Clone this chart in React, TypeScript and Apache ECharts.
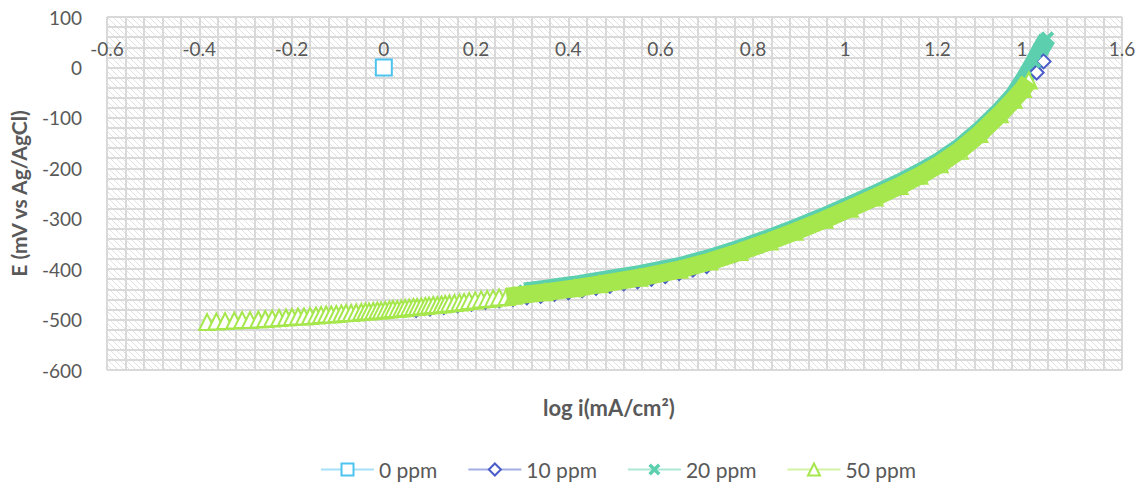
import React, { useEffect, useRef } from "react";
import * as echarts from "echarts";

// ---- data ----
const seriesNames = ["0 ppm", "10 ppm", "20 ppm", "50 ppm"];

const logI0 = [0];
const e0 = [0];

const logI10 = [0.07, 0.1, 0.13, 0.16, 0.19, 0.22, 0.25, 0.28, 0.31, 0.34, 0.37, 0.4, 0.43, 0.46, 0.49, 0.52, 0.55, 0.58, 0.61, 0.64, 0.67, 0.7, 0.76, 0.82, 0.88, 0.94, 1.0, 1.06, 1.12, 1.18, 1.24, 1.3, 1.35, 1.39, 1.415, 1.43];
const e10 = [-481, -478, -475, -472, -469, -465, -462, -459, -456, -453, -449, -446, -442, -437, -433, -428, -424, -419, -414, -408, -401, -394, -372, -353, -332, -309, -287, -263, -238, -209, -173, -127, -81, -42, -10, 12];

const logI20 = [0.305, 0.348, 0.413, 0.467, 0.554, 0.641, 0.706, 0.771, 0.836, 0.89, 0.955, 1.01, 1.064, 1.118, 1.161, 1.205, 1.248, 1.291, 1.335, 1.365, 1.39, 1.41, 1.425, 1.438];
const e20 = [-444, -439, -431, -423, -410, -394, -378, -359, -338, -319, -295, -273, -251, -228, -208, -185, -158, -125, -86, -55, -20, 12, 38, 58];

const logI50 = [-0.383, -0.363, -0.344, -0.324, -0.307, -0.29, -0.272, -0.257, -0.242, -0.227, -0.212, -0.199, -0.186, -0.173, -0.16, -0.147, -0.136, -0.125, -0.114, -0.103, -0.092, -0.082, -0.071, -0.06, -0.049, -0.04, -0.032, -0.023, -0.014, -0.006, 0.003, 0.012, 0.02, 0.029, 0.038, 0.046, 0.055, 0.064, 0.072, 0.081, 0.09, 0.098, 0.107, 0.116, 0.125, 0.133, 0.142, 0.153, 0.164, 0.174, 0.185, 0.198, 0.211, 0.224, 0.237, 0.25, 0.266, 0.281, 0.348, 0.413, 0.467, 0.554, 0.641, 0.706, 0.771, 0.836, 0.89, 0.955, 1.01, 1.064, 1.118, 1.161, 1.205, 1.248, 1.291, 1.335, 1.365, 1.385, 1.398];
const e50 = [-505, -504, -503, -502, -501, -501, -500, -499, -498, -497, -496, -495, -494, -494, -493, -492, -491, -490, -490, -489, -488, -487, -487, -486, -485, -484, -484, -483, -482, -482, -481, -480, -479, -479, -478, -477, -476, -475, -475, -474, -473, -472, -471, -471, -470, -469, -468, -467, -466, -465, -463, -462, -460, -459, -458, -456, -455, -453, -446, -438, -430, -417, -401, -385, -366, -345, -326, -302, -280, -258, -235, -215, -192, -165, -132, -93, -64, -43, -26];

// the dense part of the 50 ppm scan, where its markers merge into a solid band
const band50Start = 0.26;

const xMin = -0.6;
const xMax = 1.6;
const xStep = 0.2;
const yMin = -600;
const yMax = 100;
const yStep = 100;

const colors = ["#4dc4ef", "#4a5cc8", "#5ccfae", "#a5e74c"];
const textColor = "#595959";
const gridColor = "#d9d9d9";
const FONT = "Lato, 'Open Sans', sans-serif";

const W = 1142;
const H = 483;
const GRID = { left: 107, right: 20, top: 17, bottom: 113 };

const zip = (xs: number[], ys: number[]) => xs.map((x, i) => [x, ys[i]]);

const crossSymbol = "path://M2,0L5,3L8,0L10,2L7,5L10,8L8,10L5,7L2,10L0,8L3,5L0,2Z";

function makeHatch() {
  const c = document.createElement("canvas");
  c.width = 6;
  c.height = 6;
  const ctx = c.getContext("2d");
  if (ctx) {
    ctx.fillStyle = "#ffffff";
    ctx.fillRect(0, 0, 6, 6);
    ctx.fillStyle = "#e2e2e2";
    for (let i = 0; i < 6; i += 1) ctx.fillRect(i, i, 1, 1);
  }
  return c;
}

export default function App() {
  const ref = useRef<HTMLDivElement>(null);

  useEffect(() => {
    if (!ref.current) return;
    const chart = echarts.init(ref.current, undefined, { renderer: "svg" });
    const hatch = makeHatch();

    const band50 = zip(logI50, e50).filter((p) => p[0] >= band50Start);

    // the horizontal axis crosses the vertical one at E = 0
    const plotH = H - GRID.top - GRID.bottom;
    const xAxisOffset = -plotH * (yMax / (yMax - yMin));

    const option: any = {
      animation: false,
      backgroundColor: "#ffffff",
      grid: {
        ...GRID,
        show: true,
        borderWidth: 0,
        backgroundColor: { image: hatch, repeat: "repeat", imageWidth: 6, imageHeight: 6 },
      },
      xAxis: {
        type: "value",
        min: xMin,
        max: xMax,
        interval: xStep,
        position: "top",
        offset: xAxisOffset,
        axisLine: { show: true, onZero: false, lineStyle: { color: gridColor, width: 2 } },
        axisTick: { show: false },
        axisLabel: {
          color: textColor,
          fontSize: 19,
          fontFamily: FONT,
          margin: 9,
          formatter: (v: number) => String(Math.round(v * 10) / 10),
        },
        splitLine: { show: true, lineStyle: { color: gridColor, width: 2 } },
        minorTick: { show: false, splitNumber: 5 },
        minorSplitLine: { show: true, lineStyle: { color: gridColor, width: 2 } },
      },
      yAxis: {
        type: "value",
        min: yMin,
        max: yMax,
        interval: yStep,
        axisLine: { show: false, onZero: false },
        axisTick: { show: false },
        axisLabel: { color: textColor, fontSize: 19, fontFamily: FONT, margin: 25 },
        splitLine: { show: true, lineStyle: { color: gridColor, width: 2 } },
        minorTick: { show: false, splitNumber: 5 },
        minorSplitLine: { show: true, lineStyle: { color: gridColor, width: 2 } },
        name: "E (mV vs Ag/AgCl)",
        nameLocation: "middle",
        nameGap: 78,
        nameTextStyle: { color: textColor, fontSize: 21, fontWeight: "bold", fontFamily: FONT },
      },
      legend: {
        data: seriesNames,
        top: 459,
        left: 320,
        padding: 0,
        itemWidth: 53,
        itemHeight: 15,
        itemGap: 30,
        textStyle: { color: textColor, fontSize: 21, fontFamily: FONT },
        lineStyle: { width: 2, opacity: 0.5 },
        itemStyle: { borderWidth: 2.5 },
      },
      graphic: [
        {
          type: "text",
          x: 609,
          y: 407,
          style: {
            text: "log i(mA/cm²)",
            fill: textColor,
            font: `bold 22px ${FONT}`,
            align: "center",
            verticalAlign: "middle",
          },
        },
      ],
      series: [
        {
          name: seriesNames[0],
          type: "line",
          data: zip(logI0, e0),
          symbol: "emptyRect",
          symbolSize: 16,
          itemStyle: { color: colors[0], borderColor: colors[0], borderWidth: 3 },
          lineStyle: { color: colors[0], width: 2 },
          emphasis: { disabled: true },
        },
        {
          name: seriesNames[1],
          type: "line",
          data: zip(logI10, e10),
          symbol: "emptyDiamond",
          symbolSize: 14,
          itemStyle: { color: colors[1], borderColor: colors[1], borderWidth: 2.5 },
          lineStyle: { color: colors[1], width: 2 },
          emphasis: { disabled: true },
        },
        {
          name: seriesNames[2],
          type: "line",
          z: 3,
          data: zip(logI20, e20),
          symbol: crossSymbol,
          symbolSize: 14,
          itemStyle: { color: colors[2] },
          lineStyle: { color: colors[2], width: 18, cap: "butt", join: "round" },
          emphasis: { disabled: true },
        },
        {
          name: seriesNames[3],
          type: "line",
          z: 4,
          data: zip(logI50, e50),
          symbol: "emptyTriangle",
          symbolSize: 16,
          itemStyle: { color: colors[3], borderColor: colors[3], borderWidth: 3 },
          lineStyle: { color: colors[3], width: 2 },
          emphasis: { disabled: true },
        },
        {
          name: "50 ppm band",
          type: "line",
          z: 5,
          data: band50,
          showSymbol: false,
          symbol: "none",
          silent: true,
          lineStyle: { color: colors[3], width: 18, cap: "butt", join: "round" },
          emphasis: { disabled: true },
        },
      ],
    };

    chart.setOption(option);
    return () => chart.dispose();
  }, []);

  return (
    <div
      ref={ref}
      style={{ position: "fixed", left: 0, top: 0, width: W, height: H, background: "#fff" }}
    />
  );
}
